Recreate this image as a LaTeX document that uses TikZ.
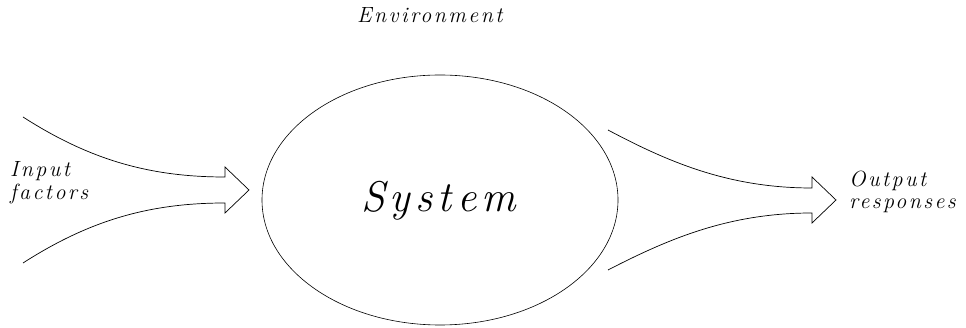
\documentclass[tikz,border=0pt]{standalone}
\usepackage{fontspec}
\newfontfamily\lblfont[LetterSpace=11]{Latin Modern Roman}
\newfontfamily\sysfont[LetterSpace=12]{Latin Modern Roman}
\usepackage{tikz}
\usetikzlibrary{shapes.geometric}

\begin{document}
\begin{tikzpicture}[x=1pt,y=1pt,
    label/.style={inner sep=0pt,font=\lblfont\fontsize{22}{26}\selectfont\itshape},
    flow/.style={line width=0.7pt,line join=miter}]
    \useasboundingbox (0,0) rectangle (966,328);

    % System
    \node[ellipse,draw,line width=0.6pt,inner sep=0pt,minimum width=356pt,minimum height=250pt]
      (system) at (440,128) {};
    \node[inner sep=0pt,anchor=base west,
      font=\sysfont\fontsize{43}{50}\selectfont\itshape]
      (name) at (361,116) {System};

    % Labels
    \node[label,anchor=base west] (env) at (357,305) {Environment};
    \node[label,anchor=base west] (in1) at (10,151) {Input};
    \node[label,anchor=base west] (in2) at (10,128) {factors};
    \node[label,anchor=base west] (out1) at (849,141) {Output};
    \node[label,anchor=base west] (out2) at (849,119) {responses};

    % Input arrow
    \draw[flow] (23,211) .. controls (90,168) and (150,151) .. (225,151)
      -- (225,161) -- (249,138) -- (225,115) -- (225,125)
      .. controls (150,125) and (90,108) .. (23,65);

    % Output arrow
    \draw[flow] (608,198) .. controls (670,165) and (730,140) .. (812,140)
      -- (812,151) -- (836,128) -- (812,105) -- (812,115)
      .. controls (730,115) and (670,90) .. (608,58);
\end{tikzpicture}
\end{document}
